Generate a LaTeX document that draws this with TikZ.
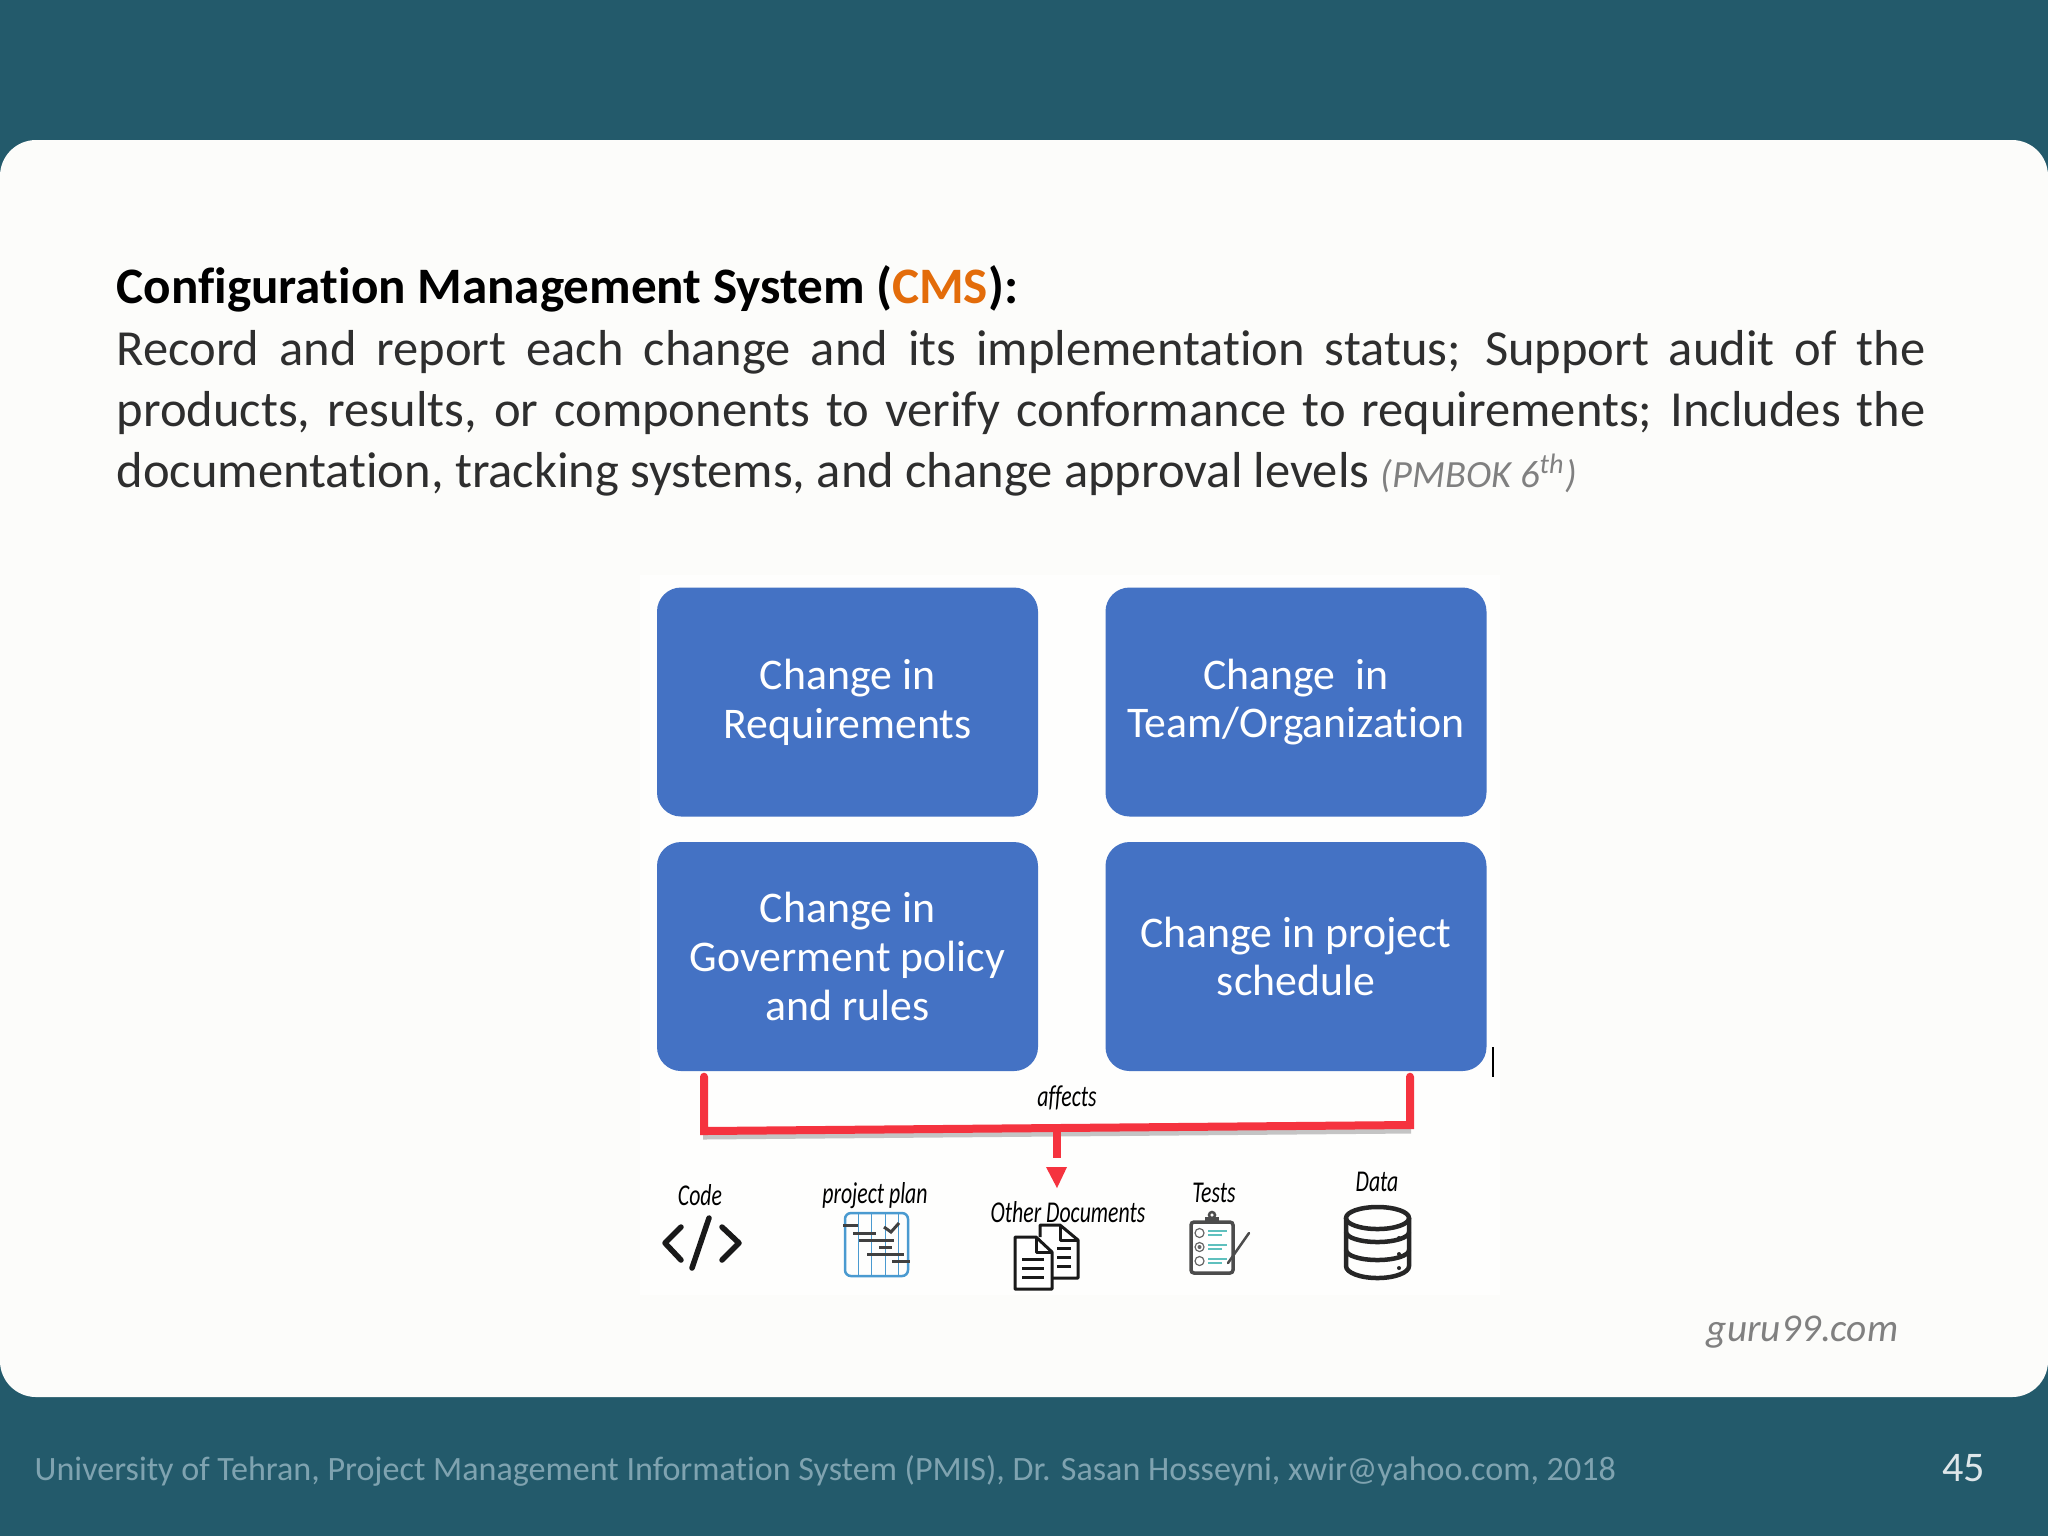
\documentclass[tikz,border=0pt]{standalone}
\usepackage{graphicx}
\usepackage{fontspec}
\setmainfont[RawFeature={-liga}]{Carlito}
\usetikzlibrary{calc}

\definecolor{slidebg}{HTML}{235A6B}
\definecolor{panelbg}{HTML}{FCFCFA}
\definecolor{boxblue}{HTML}{4472C4}
\definecolor{cmsorange}{HTML}{E36C0A}
\definecolor{footgray}{HTML}{7FA3B0}
\definecolor{linered}{HTML}{F5333F}
\definecolor{planblue}{HTML}{4A9AD0}
\definecolor{tealline}{HTML}{5FC0BE}

\newcommand{\handtxt}[1]{\scalebox{.72}[1]{#1}}

\tikzset{
  changebox/.style={draw=none,fill=boxblue,rounded corners=2.4mm,minimum width=38.1mm,
    minimum height=22.9mm,inner sep=0pt,align=center,text=white,
    font=\fontsize{12.45pt}{13.85pt}\selectfont},
  handlabel/.style={inner sep=0pt,text=black,font=\itshape\fontsize{8.6pt}{10pt}\selectfont},
  redline/.style={draw=linered,line width=.8mm,line cap=round,line join=miter},
  redshadow/.style={draw=black!45,opacity=.5,line width=.7mm},
  iconline/.style={draw=black!90,line width=.45mm,line join=round},
  planbar/.style={draw=black!75,line width=.3mm},
  docline/.style={draw=black!90,line width=.3mm}
}

\begin{document}
\begin{tikzpicture}[x=0.1mm,y=-0.1mm]
  \useasboundingbox (0,0) rectangle (2048,1536);
  \fill[slidebg] (0,0) rectangle (2048,1536);
  \fill[panelbg,rounded corners=3.6mm] (0,140) rectangle (2048,1397);
  \fill[white!60!panelbg] (640,575) rectangle (1500,1295);

  % heading and text
  \node[anchor=north west,inner sep=0pt,text width=180.9mm,align=justify,text=black!82,
    font=\fontsize{14.38pt}{17.47pt}\selectfont] (bodytext) at (116,265) {%
    {\bfseries\fontsize{14.55pt}{17.47pt}\selectfont\color{black}Configuration Management System ({\color{cmsorange}CMS}):}\\
    Record and report each change and its implementation status; Support audit of the\linebreak
    products, results, or components to verify conformance to requirements; Includes the\linebreak
    documentation, tracking systems, and change approval levels
    {\itshape\fontsize{10.95pt}{14pt}\selectfont\color{black!50}(PMBOK 6\textsuperscript{th})}};

  % the four boxes
  \node[changebox] (boxreq) at (847.5,702) {Change in\\Requirements};
  \node[changebox] (boxteam) at (1296,702) {Change\ \ in\\Team/Organization};
  \node[changebox] (boxgov) at (847.5,956.5) {Change in\\Goverment policy\\and rules\ };
  \node[changebox] (boxsched) at (1296,956.5) {Change in project\\schedule};

  \draw[black,line width=.15mm] (1493,1047) -- (1493,1077);

  % red connector
  \coordinate (footl) at (704,1131);
  \coordinate (footr) at (1410,1125);
  \coordinate (stemtop) at (1057,1128);
  \coordinate (stemend) at (1057,1158);
  \coordinate (tip) at (1057,1188);
  \draw[redshadow] ($(footl)+(-1,5)$) -- ($(footr)+(1,5)$);
  \draw[redline,shorten <=.5mm,shorten >=.5mm] (footl |- boxgov.south) -- (footl) -- (footr) -- (footr |- boxsched.south);
  \draw[redline,line cap=butt] (stemtop) -- (stemend);
  \fill[linered] (1046,1167) -- (1067,1167) -- (tip) -- cycle;

  \node[handlabel] (affects) at (1067,1098) {\handtxt{affects}};
  \node[handlabel] (lblcode) at (700,1195) {\handtxt{Code}};
  \node[handlabel] (lblplan) at (875,1196) {\handtxt{project plan}};
  \node[handlabel] (lbldocs) at (1068,1212) {\handtxt{Other Documents}};
  \node[handlabel] (lbltests) at (1214,1193) {\handtxt{Tests}};
  \node[handlabel] (lbldata) at (1377,1182) {\handtxt{Data}};

  % code icon
  \draw[iconline,line width=.55mm,line cap=round] (681,1227) -- (665,1243) -- (681,1260);
  \draw[iconline,line width=.55mm,line cap=round] (709,1218) -- (692,1268);
  \draw[iconline,line width=.55mm,line cap=round] (722,1227) -- (739,1243) -- (722,1260);

  % plan icon
  \foreach \vx in {858,871,885,898}
    \draw[planblue,line width=.1mm] (\vx,1213) -- (\vx,1276);
  \draw[planblue,line width=.25mm,rounded corners=.6mm] (845,1213) rectangle (908,1276);
  \foreach \xa/\xb/\vy in {843/858/1225,853/876/1233,859/894/1240,879/892/1247,867/904/1254,892/910/1261}
    \draw[planbar] (\xa,\vy) -- (\xb,\vy);
  \draw[planbar] (884,1227) -- (891,1232) -- (899,1223);

  % documents icon
  \fill[white] (1040,1225) -- (1060,1225) -- (1078,1240) -- (1078,1278) -- (1040,1278) -- cycle;
  \draw[iconline,line width=.3mm] (1040,1237) -- (1040,1225) -- (1060,1225) -- (1078,1240) -- (1078,1278) -- (1053,1278);
  \draw[iconline,line width=.3mm] (1060,1225) -- (1060,1240) -- (1078,1240);
  \fill[white] (1015,1237) -- (1036,1237) -- (1052,1252) -- (1052,1289) -- (1015,1289) -- cycle;
  \draw[iconline,line width=.3mm] (1015,1237) -- (1036,1237) -- (1052,1252) -- (1052,1289) -- (1015,1289) -- cycle;
  \draw[iconline,line width=.3mm] (1036,1237) -- (1036,1252) -- (1052,1252);
  \foreach \vy in {1259,1268,1277}
    \draw[docline] (1022,\vy) -- (1044,\vy);
  \foreach \vy in {1248,1257,1266}
    \draw[docline] (1057,\vy) -- (1071,\vy);

  % tests icon
  \draw[black!70,fill=white,line width=.35mm,rounded corners=.3mm] (1191,1222) rectangle (1233,1273);
  \fill[black!70] (1205,1222) -- (1205,1217) -- (1219,1217) -- (1219,1222) -- cycle;
  \draw[black!70,line width=.25mm] (1212,1215) circle (3);
  \foreach \vy in {1233,1247,1261}{
    \draw[black!60,line width=.12mm] (1199.5,\vy) circle (4.5);
    \draw[tealline,line width=.2mm] (1208,\vy-2) -- (1227,\vy-2);
    \draw[tealline,line width=.2mm] (1208,\vy+2) -- (1222,\vy+2);
  }
  \fill[black!60] (1199.5,1247) circle (2);
  \draw[black!70,line width=.25mm,line cap=round] (1228,1263) -- (1249,1233);

  % data icon
  \draw[black!85,line width=.45mm] (1346,1218) -- (1346,1266) arc[start angle=180,end angle=0,x radius=31.5,y radius=12] -- (1409,1218);
  \draw[black!85,line width=.45mm] (1377.5,1218) ellipse [x radius=31.5,y radius=11];
  \foreach \vy in {1232,1250}
    \draw[black!85,line width=.45mm] (1346,\vy) arc[start angle=180,end angle=0,x radius=31.5,y radius=10];
  \foreach \vy in {1238,1254,1268}
    \fill[black!85] (1399,\vy) circle (2);

  % bottom of the slide
  \node[anchor=base east,inner sep=0pt,text=black!50,
    font=\itshape\fontsize{11.2pt}{12pt}\selectfont] (source) at (1899,1341) {guru99.com};
  \node[anchor=base west,inner sep=0pt,text=footgray,
    font=\fontsize{9.7pt}{12pt}\selectfont] (footer) at (34,1480) {University of Tehran, Project Management Information System (PMIS), Dr. Sasan Hosseyni, xwir@yahoo.com, 2018};
  \node[anchor=base east,inner sep=0pt,text=white!85!slidebg,
    font=\fontsize{12pt}{14pt}\selectfont] (pagenum) at (1986,1481) {45};
\end{tikzpicture}
\end{document}
